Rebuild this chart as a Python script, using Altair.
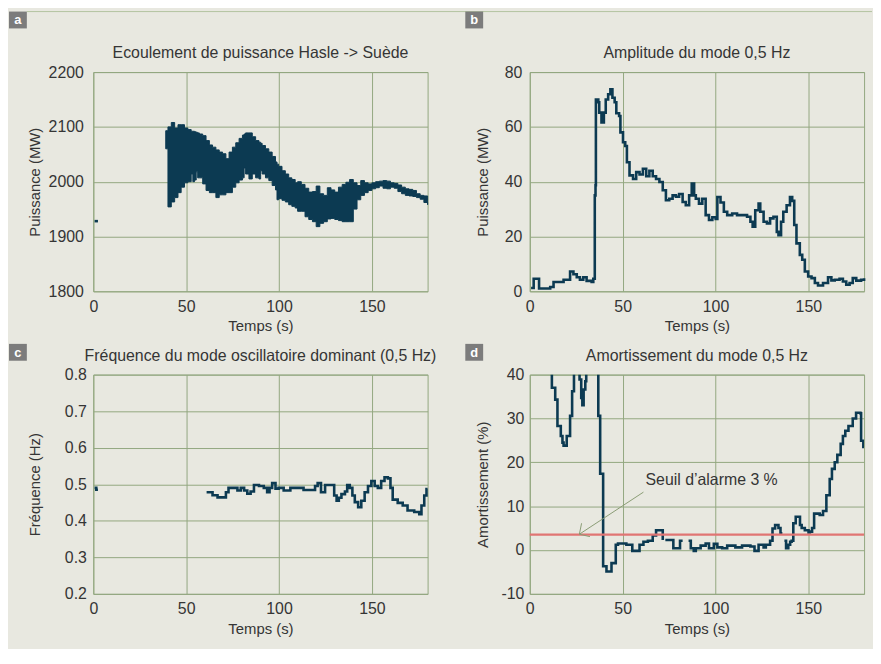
import altair as alt
import pandas as pd

# ---------------- data ----------------
# Panel a: power flow Hasle -> Sweden, envelope of the oscillating signal
A_T = [39.0, 40.2, 42.0, 43.8, 45.6, 47.3, 49.1, 50.9, 52.7, 53.6, 54.5, 55.4, 56.2, 57.1,
       58.9, 60.7, 62.5, 64.2, 66.0, 67.8, 69.6, 71.4, 73.1, 74.9, 76.7, 78.5, 80.3, 81.2,
       82.0, 83.8, 85.6, 87.4, 89.2, 90.1, 90.9, 92.7, 94.5, 96.3, 98.1, 98.9, 99.8, 101.6,
       103.4, 105.2, 106.9, 108.7, 110, 112, 114, 116, 118, 120, 122, 124, 126, 128, 130,
       132, 134, 136, 138, 140, 142, 144, 146, 148, 150, 152, 154, 156, 158, 160, 162, 164,
       166, 168, 170, 172, 174, 176, 178, 180]
A_TOP = [2093, 2100, 2108, 2098, 2104, 2104, 2098, 2095, 2092, 2092, 2091, 2090, 2089, 2087,
         2084, 2075, 2067, 2063, 2058, 2054, 2051, 2042, 2054, 2063, 2071, 2079, 2085, 2087,
         2089, 2089, 2082, 2075, 2072, 2070, 2066, 2060, 2054, 2046, 2036, 2032, 2028, 2020,
         2014, 2007, 2004, 1998, 2000, 1995, 1988, 1981, 1982, 1992, 1978, 1975, 1989, 1985,
         1981, 1990, 1995, 1999, 2004, 1998, 1993, 2002, 1998, 1996, 1998, 2000, 2001, 2002,
         2001, 1998, 1997, 1994, 1990, 1987, 1986, 1984, 1978, 1975, 1974, 1972]
A_BOT = [2060, 1954, 1963, 1971, 1980, 1990, 1998, 2000, 2014, 2000, 2003, 2018, 2007, 2007,
         1996, 1984, 1980, 1980, 1971, 1976, 1976, 1980, 1980, 1990, 1998, 2003, 2007, 2025,
         2014, 2005, 2014, 2007, 2005, 2020, 2014, 2007, 2002, 1993, 1985, 1967, 1969, 1966,
         1963, 1958, 1955, 1952, 1946, 1946, 1936, 1931, 1927, 1918, 1924, 1927, 1932, 1933,
         1931, 1929, 1927, 1927, 1927, 1950, 1967, 1975, 1980, 1984, 1987, 1989, 1992, 1988,
         1987, 1990, 1988, 1982, 1978, 1975, 1974, 1973, 1971, 1968, 1962, 1958]
A0_T = [0.7, 2.5]
A0_V = [1928, 1928]

# Panel b: amplitude of the 0.5 Hz mode (MW)
B_T = [0.7, 2.1, 5.0, 11.0, 12.8, 18.2, 21.7, 23.5, 25.3, 27.0, 28.8, 30.6, 33.3, 34.2, 35.0,
       35.4, 35.6, 36.9, 37.4, 38.6, 39.9, 40.9, 42.2, 43.4, 44.5, 45.7, 46.6, 48.1, 48.8,
       50.2, 51.4, 52.3, 53.7, 55.6, 57.3, 59.1, 60.9, 62.7, 64.4, 66.2, 68.0, 69.8, 71.6,
       73.3, 75.1, 76.9, 78.7, 80.4, 82.3, 84.0, 85.8, 87.2, 88.5, 89.4, 91.1, 92.9, 94.7,
       96.5, 98.3, 100.1, 101.0, 102.7, 104.5, 106.3, 109.0, 111.6, 114.3, 117.0, 118.8,
       120.0, 121.4, 123.2, 124.1, 125.9, 127.7, 129.4, 131.2, 133.0, 133.9, 135.3, 136.5,
       138.3, 140.1, 141.3, 142.4, 143.6, 145.4, 146.7, 148.1, 149.9, 151.7, 153.5, 155.2,
       157.9, 160.6, 162.4, 164.2, 166.8, 168.6, 170.4, 172.2, 173.9, 175.8, 178.4, 180.0]
B_V = [1.2, 4.6, 1.0, 1.6, 3.4, 4.2, 7.2, 6.2, 5.1, 4.2, 5.1, 3.8, 3.4, 4.6, 35.0,
       38.7, 70.0, 69.0, 65.2, 61.6, 65.2, 70.0, 71.9, 73.7, 70.6, 69.0, 65.0, 64.0, 58.0,
       54.4, 53.0, 47.1, 42.3, 41.0, 43.5, 42.6, 44.7, 42.0, 44.0, 42.0, 41.0, 39.9, 36.9,
       33.2, 33.8, 35.0, 34.5, 35.5, 32.6, 31.4, 35.0, 39.3, 35.0, 33.8, 32.0, 33.8, 27.8,
       26.0, 27.0, 26.4, 34.4, 32.4, 29.0, 27.8, 28.4, 27.8, 27.8, 27.2, 25.4,
       23.6, 29.6, 32.0, 29.0, 25.4, 24.8, 26.6, 27.2, 21.7, 20.5, 25.4, 29.0,
       31.4, 34.4, 33.0, 24.2, 17.5, 13.3, 11.5, 7.2, 5.4, 4.8, 3.0, 2.1,
       3.0, 5.1, 4.0, 4.2, 4.6, 3.6, 2.4, 3.0, 4.8, 3.9, 4.2, 4.8]

# Panel c: frequency of the dominant oscillatory mode (Hz)
C1_T = [0.7, 1.6, 2.5]
C1_V = [0.490, 0.485, 0.485]
C2_T = [61.0, 64.2, 66.9, 71.4, 72.8, 75.8, 77.6, 79.4, 81.2, 82.9, 84.7, 86.5, 89.2, 91.8,
        93.6, 94.9, 96.3, 98.1, 99.8, 102.5, 106.1, 111.4, 113.2, 117.6, 119.4, 120.8, 122.6,
        124.8, 128.3, 129.7, 131.0, 132.2, 133.6, 135.5, 136.7, 138.1, 139.5, 140.8, 142.6,
        144.3, 146.1, 147.9, 149.7, 151.5, 153.2, 155.0, 156.8, 158.6, 160.0, 161.2, 163.9,
        166.6, 169.2, 172.8, 175.5, 176.7, 178.2, 179.4, 180.0]
C2_V = [0.478, 0.470, 0.464, 0.478, 0.490, 0.490, 0.483, 0.490, 0.483, 0.474, 0.480, 0.498,
        0.495, 0.490, 0.478, 0.490, 0.503, 0.488, 0.490, 0.483, 0.490, 0.490, 0.484, 0.484,
        0.495, 0.503, 0.478, 0.498, 0.498, 0.469, 0.455, 0.463, 0.473, 0.480, 0.498, 0.490,
        0.469, 0.451, 0.437, 0.455, 0.478, 0.495, 0.509, 0.495, 0.490, 0.509, 0.519, 0.516,
        0.490, 0.458, 0.449, 0.442, 0.428, 0.424, 0.418, 0.442, 0.469, 0.487, 0.487]

# Panel d: damping of the 0.5 Hz mode (%), values above 40 are off the chart
D1_T = [10.0, 11.9, 13.7, 14.9, 16.7, 17.6, 18.2, 19.9, 21.7, 22.8, 23.8, 26.8, 27.7, 28.3,
        29.0, 29.9, 30.4, 36.9, 37.9, 39.5, 41.3, 44.0, 46.3, 47.5, 52.0, 55.2, 59.1, 61.2,
        63.6, 66.2, 68.0, 71.6]
D1_V = [60.0, 37.0, 34.3, 28.3, 26.0, 24.5, 23.8, 26.0, 30.6, 36.2, 60.0, 38.9, 34.7, 33.0,
        36.6, 38.5, 60.0, 30.6, 17.4, -3.7, -4.9, -3.0, 1.2, 1.5, 1.2, -0.2, 1.2, 1.9,
        2.1, 3.3, 4.5, 2.3]
D2_T = [73.0, 77.3, 80.9, 82.3]
D2_V = [2.3, 0.4, 2.1, 2.1]
D3_T = [85.5, 86.7, 88.3, 89.4, 92.0, 94.7, 96.5, 99.1, 101.0, 103.6, 106.3, 110.7, 114.3,
        118.8, 121.0, 123.2, 125.9, 127.1, 129.4, 130.7, 132.1, 133.9, 135.0, 136.0]
D3_V = [2.1, 0.4, -0.2, 0.4, 1.0, 1.5, 0.4, 1.4, 0.6, 0.4, 1.0, 0.6, 1.0,
        0.8, -0.2, 1.2, 0.6, 1.2, 2.1, 4.9, 5.7, 5.0, 3.8, 3.8]
D4_T = [137.1, 138.0, 139.2, 140.2, 141.0, 141.9, 143.2, 145.5, 146.4, 148.1, 150.1, 150.8,
        152.0, 153.1, 156.1, 157.9, 159.7, 161.5, 162.7, 164.2, 165.6, 167.4, 168.6, 169.9,
        171.6, 173.9, 175.7, 178.0, 178.4, 179.6, 180.0]
D4_V = [2.1, 0.4, 1.2, 1.9, 2.1, 6.1, 7.6, 5.7, 5.0, 4.5, 4.0, 4.2,
        5.0, 8.3, 8.0, 8.9, 12.5, 16.2, 18.5, 20.0, 21.7, 24.2, 26.0, 27.2,
        28.3, 30.0, 31.3, 31.2, 24.9, 23.5, 23.5]
ALARM = 3.5
ALARM_TEXT = "Seuil d\u2019alarme 3 %"
ALARM_TEXT_T, ALARM_TEXT_V = 62.3, 16.0
ARROW_T = [61.2, 26.7, 26.7]
ARROW_V = [13.2, 3.6, 3.6]
ARROW_T2 = [26.7, 27.9, 32.4]
ARROW_V2 = [3.6, 6.1, 3.05]

TITLES = ["Ecoulement de puissance Hasle -> Su\u00e8de", "Amplitude du mode 0,5 Hz",
          "Fr\u00e9quence du mode oscillatoire dominant (0,5 Hz)", "Amortissement du mode 0,5 Hz"]
YTITLES = ["Puissance (MW)", "Puissance (MW)", "Fr\u00e9quence (Hz)", "Amortissement (%)"]
LETTERS = ["a", "b", "c", "d"]
X_TICKS = [0, 50, 100, 150]
Y_TICKS = [[1800, 1900, 2000, 2100, 2200], [0, 20, 40, 60, 80],
           [0.2, 0.3, 0.4, 0.5, 0.6, 0.7, 0.8], [-10, 0, 10, 20, 30, 40]]

# ---------------- style ----------------
FONT = "Liberation Sans"
BG = "#e8e8e0"
GRID = "#93a77f"
LINE = "#0c3a52"
TXT = "#353535"
RED = "#e07573"
LABEL_BG = "#7c7c7c"
TOPLINE = "#b3c2a0"
W, H = 337, 221

one = pd.DataFrame({"k": [0]})


def xenc():
    return alt.X("t:Q", scale=alt.Scale(domain=[0, 180], nice=False, zero=False),
                 axis=alt.Axis(values=X_TICKS, title="Temps (s)", titleY=40,
                               titleBaseline="alphabetic", labelPadding=7))


def yenc(i, tx, lp, fmt=None, expr=None):
    ax = dict(values=Y_TICKS[i], title=YTITLES[i], titleX=tx, titleY=H / 2,
              titleBaseline="bottom", titleAlign="center", labelPadding=lp)
    if fmt:
        ax["format"] = fmt
    if expr:
        ax["labelExpr"] = expr
    dom = [Y_TICKS[i][0], Y_TICKS[i][-1]]
    return alt.Y("v:Q", scale=alt.Scale(domain=dom, nice=False, zero=False),
                 axis=alt.Axis(**ax))


def decor(i, lx, ly):
    rect = alt.Chart(one).mark_rect(color=LABEL_BG).encode(
        x=alt.value(lx), x2=alt.value(lx + 18), y=alt.value(ly), y2=alt.value(ly + 17))
    let = alt.Chart(one).mark_text(font=FONT, fontSize=13, fontWeight="bold", color="white",
                                   align="center", baseline="middle").encode(
        x=alt.value(lx + 9), y=alt.value(ly + 9), text=alt.value(LETTERS[i]))
    ttl = alt.Chart(one).mark_text(font=FONT, fontSize=16, color=TXT, align="center",
                                   baseline="alphabetic").encode(
        x=alt.value(W / 2), y=alt.value(-14), text=alt.value(TITLES[i]))
    return [rect, let, ttl]


def segs(*pairs):
    rows = []
    for s, (ts, vs) in enumerate(pairs):
        for t, v in zip(ts, vs):
            rows.append({"t": t, "v": v, "s": s})
    return pd.DataFrame(rows)


# ---- panel a ----
ya = yenc(0, -51, 10, fmt="d")
band = alt.Chart(pd.DataFrame({"t": A_T, "v": A_TOP, "v2": A_BOT})).mark_area(
    color=LINE, interpolate="step-after", opacity=1, stroke=LINE, strokeWidth=1).encode(
    x=xenc(), y=ya, y2="v2:Q")
a0 = alt.Chart(pd.DataFrame({"t": A0_T, "v": A0_V})).mark_line(
    color=LINE, strokeWidth=2.6).encode(x=xenc(), y=ya)
topline = alt.Chart(one).mark_rule(color=TOPLINE, strokeWidth=1).encode(
    x=alt.value(-67), x2=alt.value(785), y=alt.value(-61))
pa = alt.layer(band, a0, topline, *decor(0, -85, -61)).properties(width=W, height=H)

# ---- panel b ----
yb = yenc(1, -40, 8)
lb = alt.Chart(pd.DataFrame({"t": B_T, "v": B_V})).mark_line(
    color=LINE, strokeWidth=2.6, interpolate="step-after").encode(x=xenc(), y=yb)
pb = alt.layer(lb, *decor(1, -65, -61)).properties(width=W, height=H)

# ---- panel c ----
yc = yenc(2, -51, 7, fmt=".1f")
lc = alt.Chart(segs((C1_T, C1_V), (C2_T, C2_V))).mark_line(
    color=LINE, strokeWidth=2.6, interpolate="step-after").encode(
    x=xenc(), y=yc, detail="s:N")
pc = alt.layer(lc, *decor(2, -85, -31)).properties(width=W, height=H)

# ---- panel d ----
yd = yenc(3, -40, 6, expr="datum.value + ''")
ld = alt.Chart(segs((D1_T, D1_V), (D2_T, D2_V), (D3_T, D3_V), (D4_T, D4_V))).mark_line(
    color=LINE, strokeWidth=2.6, interpolate="step-after", clip=True).encode(
    x=xenc(), y=yd, detail="s:N")
alarm = alt.Chart(pd.DataFrame({"v": [ALARM]})).mark_rule(color=RED, strokeWidth=2.2).encode(
    y=yd)
arrow = alt.Chart(pd.DataFrame({"t": ARROW_T, "v": ARROW_V, "t2": ARROW_T2, "v2": ARROW_V2})
                  ).mark_rule(color="#8a9c74", strokeWidth=1).encode(
    x=xenc(), y=yd, x2="t2:Q", y2="v2:Q")
atext = alt.Chart(pd.DataFrame({"t": [ALARM_TEXT_T], "v": [ALARM_TEXT_V], "lab": [ALARM_TEXT]})
                  ).mark_text(font=FONT, fontSize=16, color=TXT, align="left",
                              baseline="middle").encode(x=xenc(), y=yd, text="lab:N")
pd_ = alt.layer(ld, alarm, arrow, atext, *decor(3, -65, -31)).properties(width=W, height=H)

chart = alt.concat(pa, pb, pc, pd_, columns=2, spacing={"row": 84, "column": 103},
                   bounds="flush").properties(
    background=BG, padding={"left": 0, "top": 0, "right": 0, "bottom": 9}
).configure_view(stroke=GRID, strokeWidth=1).configure_axis(
    grid=True, gridColor=GRID, gridWidth=1, gridOpacity=1, domain=False, ticks=False,
    tickSize=0, labelFont=FONT, labelFontSize=16, labelColor=TXT, titleFont=FONT,
    titleFontSize=15, titleColor=TXT, titleFontWeight="normal", labelFlush=False,
    labelOverlap=False)

chart.save("out.html", embed_options={"renderer": "svg", "actions": False})
